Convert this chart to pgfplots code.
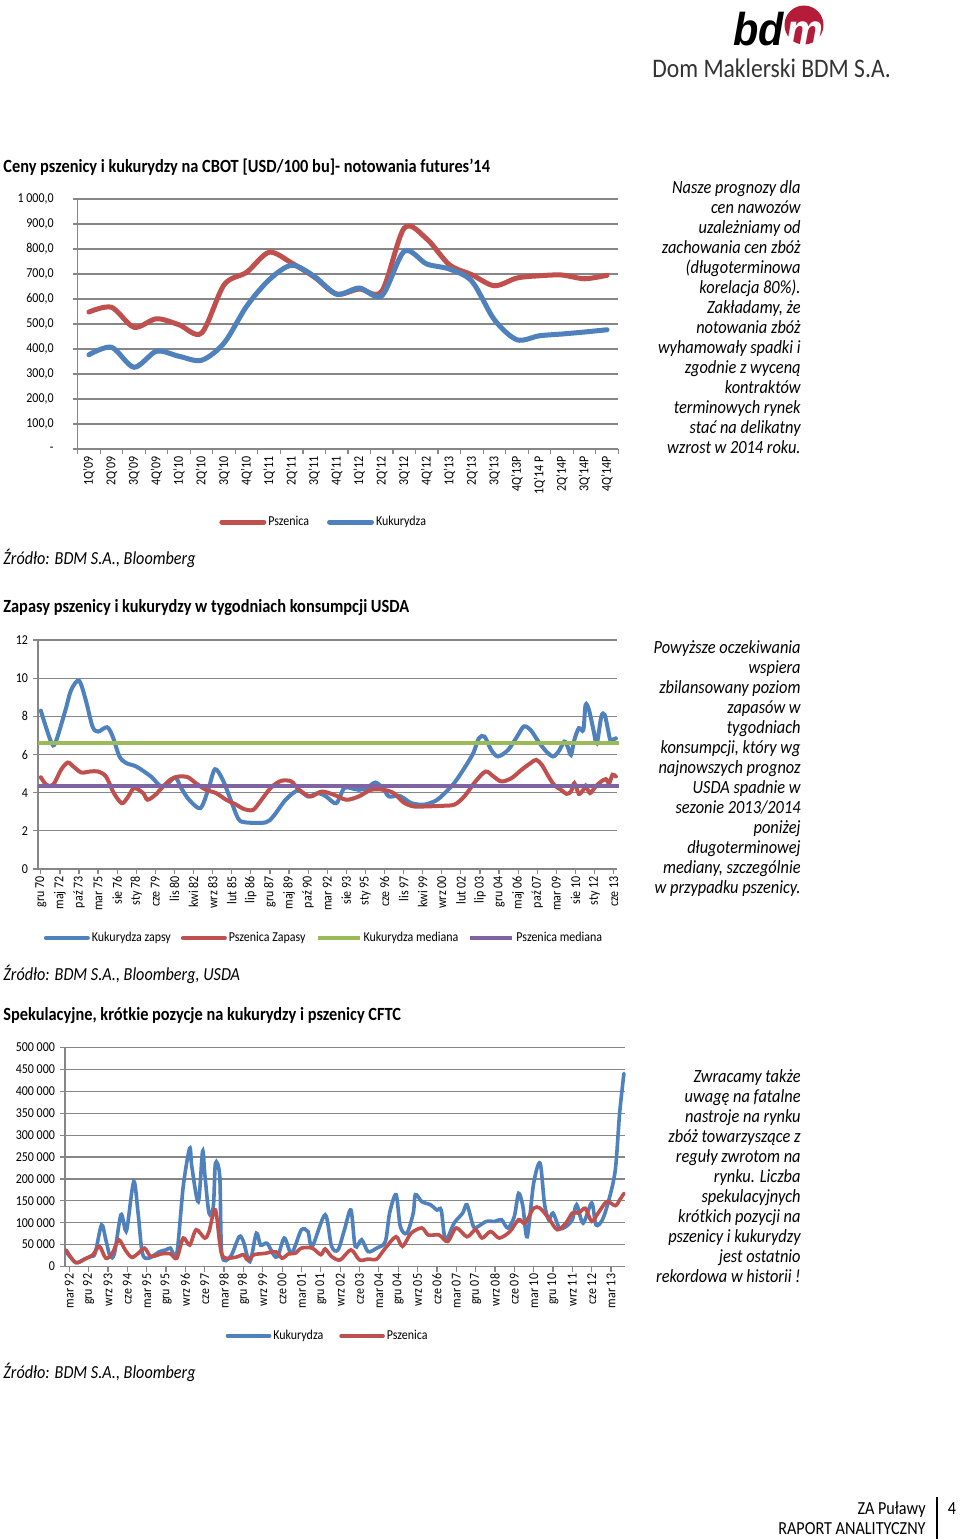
\documentclass[border=0pt]{standalone}
\usepackage{fontspec}
\setmainfont{Carlito}[FakeStretch=0.88]
\newfontfamily\logofont{Liberation Sans}[FakeStretch=0.9]
\usepackage{pgfplots}
\pgfplotsset{compat=1.18}

\definecolor{xred}{HTML}{C0504D}
\definecolor{xblue}{HTML}{4F81BD}
\definecolor{xgreen}{HTML}{9BBB59}
\definecolor{xpurple}{HTML}{8064A2}
\definecolor{xgrid}{HTML}{868686}
\definecolor{logored}{HTML}{B51C3A}

\newcommand\tickfont{\fontsize{6.8}{7}\selectfont}
\newcommand\titlefont{\fontsize{9.3}{10}\selectfont\bfseries}
\newcommand\srcfont{\fontsize{9.2}{10}\selectfont\itshape}
\newcommand\notefont{\fontsize{9.3}{10}\selectfont\itshape}

\pgfplotsset{
  excelchart/.style={
    scale only axis,
    anchor=south west,
    axis lines*=left,
    axis line style={xgrid, line width=0.6pt},
    ymajorgrids,
    major grid style={xgrid, line width=0.6pt},
    tick style={xgrid, line width=0.6pt},
    tick align=outside,
    major tick length=2.5pt,
    minor tick length=2.5pt,
    tick label style={font=\tickfont, text=black},
    xticklabel style={rotate=90, anchor=east, inner sep=1pt},
    clip=false,
    legend style={draw=none, fill=none, legend columns=-1, font=\tickfont,
      inner sep=0pt, anchor=center, nodes={inner sep=1pt}},
    legend image code/.code={\draw[#1] (0pt,0pt) -- (21pt,0pt);},
    every axis plot/.append style={smooth, no markers, line cap=round},
  }
}

\begin{document}
\begin{tikzpicture}
\path[use as bounding box, fill=white] (0pt,0pt) rectangle (480pt,-769.5pt);

% ---------- chart 1: ceny pszenicy i kukurydzy ----------
\begin{axis}[excelchart,
  at={(38.85pt,-224.5pt)},
  width=270.3pt, height=125pt,
  xmin=-0.5, xmax=23.5, ymin=0, ymax=1000,
  xtick={0,...,23},
  xticklabels={1Q'09,2Q'09,3Q'09,4Q'09,1Q'10,2Q'10,3Q'10,4Q'10,1Q'11,2Q'11,3Q'11,4Q'11,1Q'12,2Q'12,3Q'12,4Q'12,1Q'13,2Q'13,3Q'13,4Q'13P,1Q'14 P,2Q'14P,3Q'14P,4Q'14P},
  minor xtick={-0.5,0.5,...,23.5},
  major x tick style={draw=none},
  ytick={0,100,...,1000},
  yticklabels={{-},{100,0},{200,0},{300,0},{400,0},{500,0},{600,0},{700,0},{800,0},{900,0},{1 000,0}},
  yticklabel style={xshift=-6pt},
  legend style={at={(0.455,-0.292)},
    /tikz/every even column/.append style={column sep=8pt}},
]
\addplot[xred, line width=2.5pt] coordinates {
 (0,548) (1,567) (2,487) (3,521) (4,497) (5,464) (6,657) (7,707)
 (8,787) (9,744) (10,688) (11,620) (12,640) (13,631) (14,884) (15,840)
 (16,737) (17,697) (18,653) (19,684) (20,693) (21,696) (22,681) (23,695)
};
\addlegendentry{Pszenica}
\addplot[xblue, line width=2.5pt] coordinates {
 (0,377) (1,407) (2,327) (3,391) (4,371) (5,355) (6,424) (7,571)
 (8,677) (9,735) (10,691) (11,619) (12,644) (13,613) (14,791) (15,740)
 (16,720) (17,671) (18,517) (19,437) (20,453) (21,460) (22,468) (23,477)
};
\addlegendentry{Kukurydza}
\end{axis}

% ---------- chart 2: zapasy w tygodniach konsumpcji ----------
\begin{axis}[excelchart,
  at={(19pt,-434.5pt)},
  width=289.5pt, height=114.5pt,
  xmin=-2.5, xmax=513, ymin=0, ymax=12,
  xtick={0,17,...,510},
  xticklabels={gru 70,maj 72,paź 73,mar 75,sie 76,sty 78,cze 79,lis 80,kwi 82,wrz 83,lut 85,lip 86,gru 87,maj 89,paź 90,mar 92,sie 93,sty 95,cze 96,lis 97,kwi 99,wrz 00,lut 02,lip 03,gru 04,maj 06,paź 07,mar 09,sie 10,sty 12,cze 13},
  ytick={0,2,...,12},
  yticklabels={0,2,4,6,8,10,12},
  yticklabel style={xshift=1pt},
  legend style={at={(0.494,-0.301)},
    /tikz/every even column/.append style={column sep=4pt}},
]
\addplot[xblue, line width=2pt] coordinates {
 (0,8.3) (9,6.68) (13,6.62) (22,8.34) (27,9.38) (34,9.87) (40,8.86) (46,7.47)
 (51,7.2) (59,7.43) (64,6.94) (70,5.9) (76,5.55) (85,5.37) (98,4.85) (107,4.33)
 (114,4.53) (120,4.8) (125,4.24) (132,3.63) (142,3.19) (149,4.15) (155,5.23)
 (162,4.67) (169,3.63) (176,2.62) (183,2.44) (200,2.44) (207,2.76) (218,3.63)
 (229,4.12) (238,3.8) (247,3.98) (254,3.8) (263,3.45) (270,4.24) (276,4.24)
 (283,4.15) (290,4.24) (298,4.53) (305,4.19) (310,3.8) (318,3.85) (323,3.72)
 (330,3.45) (341,3.37) (352,3.59) (359,3.94) (368,4.5) (377,5.28) (385,6.07)
 (390,6.85) (395,6.94) (401,6.24) (407,5.9) (416,6.24) (424,6.94) (430,7.47)
 (436,7.29) (443,6.68) (450,6.16) (456,5.9) (461,6.16) (466,6.68) (469,6.42)
 (472,5.98) (475,6.77) (479,7.38) (483,7.29) (485,8.6) (488,8.34) (492,7.29)
 (495,6.59) (499,7.99) (502,8.08) (505,7.29) (507,6.77) (510,6.8) (512,6.85)
};
\addlegendentry{Kukurydza zapsy}
\addplot[xred, line width=2pt] coordinates {
 (0,4.81) (5,4.41) (11,4.41) (18,5.2) (24,5.58) (29,5.37) (36,5.06) (44,5.11)
 (51,5.11) (58,4.85) (65,3.98) (72,3.45) (77,3.72) (83,4.24) (91,3.98) (95,3.63)
 (102,3.89) (109,4.33) (116,4.71) (123,4.85) (131,4.81) (138,4.5) (147,4.15)
 (156,3.98) (165,3.63) (174,3.37) (181,3.14) (189,3.1) (196,3.59) (205,4.27)
 (214,4.62) (223,4.59) (230,4.15) (240,3.8) (250,4.06) (261,3.89) (272,3.63)
 (283,3.8) (294,4.15) (305,4.15) (314,3.98) (323,3.49) (332,3.28) (343,3.28)
 (356,3.31) (368,3.37) (377,3.8) (387,4.59) (396,5.11) (403,4.85) (410,4.59)
 (419,4.76) (428,5.2) (436,5.55) (441,5.72) (446,5.46) (452,4.85) (457,4.41)
 (463,4.15) (468,3.94) (472,4.06) (475,4.5) (479,3.94) (483,4.15) (485,4.36)
 (489,3.98) (494,4.33) (499,4.59) (503,4.71) (506,4.5) (509,4.94) (512,4.85)
};
\addlegendentry{Pszenica Zapasy}
\addplot[xgreen, line width=2pt, line cap=butt] coordinates {(-2.5,6.6) (515,6.6)};
\addlegendentry{Kukurydza mediana}
\addplot[xpurple, line width=2pt, line cap=butt] coordinates {(-2.5,4.33) (515,4.33)};
\addlegendentry{Pszenica mediana}
\end{axis}

% ---------- chart 3: krotkie pozycje CFTC ----------
\begin{axis}[excelchart,
  at={(32.5pt,-633.25pt)},
  width=280pt, height=109.5pt,
  xmin=-2, xmax=258.5, ymin=0, ymax=500000,
  xtick={0,9,...,252},
  xticklabels={mar 92,gru 92,wrz 93,cze 94,mar 95,gru 95,wrz 96,cze 97,mar 98,gru 98,wrz 99,cze 00,mar 01,gru 01,wrz 02,cze 03,mar 04,gru 04,wrz 05,cze 06,mar 07,gru 07,wrz 08,cze 09,mar 10,gru 10,wrz 11,cze 12,mar 13},
  ytick={0,50000,...,500000},
  yticklabels={0,50 000,100 000,150 000,200 000,250 000,300 000,350 000,400 000,450 000,500 000},
  yticklabel style={xshift=1pt},
  scaled y ticks=false,
  legend style={at={(0.469,-0.317)},
    /tikz/every even column/.append style={column sep=7pt}},
]
\addplot[xblue, line width=1.8pt] coordinates {
 (-1.5,34000) (3,9000) (7,17000) (10,23000) (12,30000) (15,95000) (17,61000)
 (19,23000) (21,30000) (24,118000) (26,84000) (27,91000) (30,194000) (32,122000)
 (34,30000) (37,19000) (42,34000) (45,38000) (47,42000) (50,30000) (53,183000)
 (56,270000) (57,228000) (60,148000) (62,263000) (63,213000) (65,122000)
 (67,137000) (68,236000) (70,205000) (71,27000) (75,23000) (79,68000) (81,57000)
 (84,11000) (87,76000) (89,49000) (92,53000) (95,27000) (97,23000) (100,65000)
 (103,30000) (105,46000) (108,84000) (111,80000) (113,46000) (119,118000)
 (122,46000) (125,38000) (128,84000) (131,129000) (133,46000) (136,61000)
 (139,34000) (143,42000) (147,57000) (149,122000) (152,164000) (154,91000)
 (157,76000) (160,122000) (161,164000) (164,148000) (168,141000) (171,129000)
 (173,129000) (175,61000) (179,99000) (183,122000) (185,141000) (188,91000)
 (190,91000) (194,103000) (198,103000) (201,107000) (204,88000) (207,114000)
 (209,167000) (211,137000) (213,68000) (216,190000) (219,236000) (221,145000)
 (223,107000) (225,122000) (228,88000) (231,91000) (234,107000) (236,141000)
 (239,99000) (243,145000) (245,95000) (248,107000) (251,152000) (254,221000)
 (256,350000) (258,441000)
};
\addlegendentry{Kukurydza}
\addplot[xred, line width=1.8pt] coordinates {
 (-1.5,38000) (3,9000) (8,19000) (11,27000) (14,46000) (17,19000) (20,30000)
 (23,61000) (26,38000) (29,21000) (32,30000) (35,42000) (38,23000) (43,29000)
 (47,29000) (50,19000) (53,65000) (56,49000) (59,84000) (63,65000) (65,80000)
 (68,129000) (71,27000) (77,21000) (81,27000) (83,15000) (86,27000) (91,30000)
 (96,34000) (99,19000) (102,29000) (105,30000) (108,42000) (113,42000)
 (117,27000) (119,40000) (122,23000) (126,15000) (131,38000) (135,15000)
 (139,17000) (143,17000) (147,42000) (152,68000) (155,46000) (159,76000)
 (164,88000) (167,72000) (172,72000) (176,57000) (180,88000) (185,68000)
 (189,84000) (192,65000) (196,80000) (200,65000) (205,80000) (209,107000)
 (212,99000) (216,133000) (219,133000) (223,110000) (227,84000) (231,99000)
 (234,122000) (237,122000) (240,133000) (243,103000) (246,122000) (250,148000)
 (254,139000) (256,152000) (258,167000)
};
\addlegendentry{Pszenica}
\end{axis}

% ---------- page text (pixel grid, 1px = 0.5pt) ----------
\begin{scope}[x=0.5pt, y=-0.5pt, every node/.style={inner sep=0pt}]
  % logo
  \fill[logored] (804,25) circle (19.5);
  \node[anchor=base west, font={\logofont\fontsize{23}{23}\selectfont\bfseries\itshape}] at (733,45) {bd};
  \node[anchor=base west, text=white, font={\logofont\fontsize{23}{23}\selectfont\bfseries\itshape}] at (786,46) {m};
  \node[anchor=base west, text=black!80, font={\fontsize{13.4}{14}\selectfont}] at (652,77) {Dom Maklerski BDM S.A.};

  % titles
  \node[anchor=base west, font=\titlefont] at (3,172) {Ceny pszenicy i kukurydzy na CBOT [USD/100 bu]- notowania futures’14};
  \node[anchor=base west, font=\titlefont] at (3,612) {Zapasy pszenicy i kukurydzy w tygodniach konsumpcji USDA};
  \node[anchor=base west, font=\titlefont] at (3,1020) {Spekulacyjne, krótkie pozycje na kukurydzy i pszenicy CFTC};

  % sources
  \node[anchor=base west, font=\srcfont] at (3,564) {Źródło: BDM S.A., Bloomberg};
  \node[anchor=base west, font=\srcfont] at (3,980) {Źródło: BDM S.A., Bloomberg, USDA};
  \node[anchor=base west, font=\srcfont] at (3,1378) {Źródło: BDM S.A., Bloomberg};

  % comments
  \foreach \t [count=\i from 0] in {{Nasze prognozy dla}, {cen nawozów}, {uzależniamy od},
      {zachowania cen zbóż}, {(długoterminowa}, {korelacja 80\%).}, {Zakładamy, że},
      {notowania zbóż}, {wyhamowały spadki i}, {zgodnie z wyceną}, {kontraktów},
      {terminowych rynek}, {stać na delikatny}, {wzrost w 2014 roku.}}
    \node[anchor=base east, font=\notefont] at (801,{193+20*\i}) {\t};
  \foreach \t [count=\i from 0] in {{Powyższe oczekiwania}, {wspiera}, {zbilansowany poziom},
      {zapasów w}, {tygodniach}, {konsumpcji, który wg}, {najnowszych prognoz},
      {USDA spadnie w}, {sezonie 2013/2014}, {poniżej}, {długoterminowej},
      {mediany, szczególnie}, {w przypadku pszenicy.}}
    \node[anchor=base east, font=\notefont] at (801,{653+20*\i}) {\t};
  \foreach \t [count=\i from 0] in {{Zwracamy także}, {uwagę na fatalne}, {nastroje na rynku},
      {zbóż towarzyszące z}, {reguły zwrotom na}, {rynku. Liczba}, {spekulacyjnych},
      {krótkich pozycji na}, {pszenicy i kukurydzy}, {jest ostatnio},
      {rekordowa w historii !}}
    \node[anchor=base east, font=\notefont] at (801,{1082+20*\i}) {\t};

  % footer
  \node[anchor=base east, font={\fontsize{9.2}{10}\selectfont}] at (926,1514) {ZA Puławy};
  \node[anchor=base east, font={\fontsize{9.2}{10}\selectfont}] at (926,1534) {RAPORT ANALITYCZNY};
  \draw[black, line width=0.6pt] (937,1497) -- (937,1539);
  \node[anchor=base, font={\fontsize{9.2}{10}\selectfont}] at (952,1514) {4};
\end{scope}
\end{tikzpicture}
\end{document}
